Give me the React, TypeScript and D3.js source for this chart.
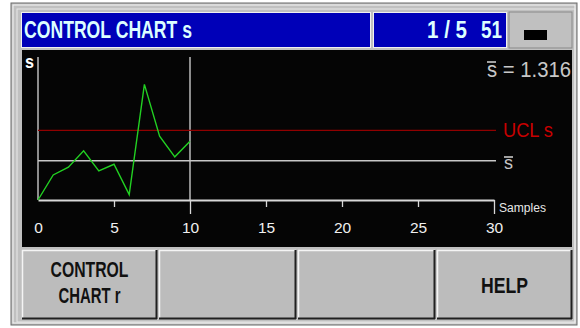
import React, { useEffect, useRef } from "react";
import * as d3 from "d3";

const samples = [0, 1, 2, 3, 4, 5, 6, 7, 8, 9, 10];
const sValues = [0.0, 0.84, 1.1, 1.65, 0.98, 1.2, 0.18, 3.88, 2.14, 1.45, 1.97];
const sMean = 1.316;
const uclS = 2.334;
const xTicks = [0, 5, 10, 15, 20, 25, 30];
const buttonLabels = [["CONTROL", "CHART r"], [], [], ["HELP"]];

const FONT = "'Liberation Sans', Arial, sans-serif";

export default function App() {
  const axisRef = useRef<SVGGElement>(null);
  const x = d3.scaleLinear().domain([0, 30]).range([38, 494]);
  const y = d3.scaleLinear().domain([0, 4.8]).range([200, 57]);

  useEffect(() => {
    if (!axisRef.current) return;
    const g = d3.select(axisRef.current);
    g.selectAll("*").remove();
    g.call(
      d3
        .axisBottom(x)
        .tickValues(xTicks)
        .tickSize(14)
        .tickSizeOuter(0)
        .tickPadding(5)
        .tickFormat(d3.format("d"))
    );
    g.select(".domain").attr("stroke", "#d8d8d8").attr("stroke-width", 2);
    g.selectAll(".tick line")
      .attr("stroke", "#d8d8d8")
      .attr("stroke-width", 1.3)
      .attr("y2", (d: any) => (d === 0 ? 0 : d === 10 || d === 30 ? 14 : 7));
    g.selectAll(".tick text")
      .attr("fill", "#f0f0f0")
      .attr("font-family", FONT)
      .attr("font-size", 15.5)
      .attr("y", 33)
      .attr("dy", 0);
  }, []);

  const line = d3
    .line<number>()
    .x((_, i) => x(samples[i]))
    .y((d) => y(d));

  const btnX = [22, 159, 298, 437];
  const btnW = [135, 137, 137, 135];

  return (
    <svg
      width={580}
      height={328}
      style={{ position: "absolute", left: 0, top: 0, background: "#fff" }}
    >
      {/* outer frame */}
      <rect x={11} y={3} width={566} height={322} fill="#c0c0c0" stroke="#6a6a6a" />
      <rect x={13} y={5} width={562} height={318} fill="none" stroke="#f4f4f4" />
      <rect x={17} y={9} width={558} height={313} fill="none" stroke="#e8e8e8" />

      {/* title boxes */}
      <rect x={21} y={12} width={350} height={36} fill="#f0f0f0" />
      <rect x={22} y={13} width={348} height={34} fill="#0000b8" />
      <rect x={373} y={12} width={134} height={36} fill="#f0f0f0" />
      <rect x={374} y={13} width={132} height={34} fill="#0000b8" />
      <rect x={509} y={12} width={63} height={36} fill="#c0c0c0" stroke="#888" />
      <rect x={524} y={30} width={23} height={10} fill="#000" />
      <text x={24} y={38} fill="#dcffff" fontFamily={FONT} fontWeight="bold" fontSize={23} textLength={168} lengthAdjust="spacingAndGlyphs">
        CONTROL CHART s
      </text>
      <text x={427} y={38} fill="#dcffff" fontFamily={FONT} fontWeight="bold" fontSize={23} textLength={40} lengthAdjust="spacingAndGlyphs">
        1 / 5
      </text>
      <text x={481} y={38} fill="#dcffff" fontFamily={FONT} fontWeight="bold" fontSize={23} textLength={21} lengthAdjust="spacingAndGlyphs">
        51
      </text>

      {/* chart area */}
      <rect x={22} y={50} width={550} height={197} fill="#050505" />
      <line x1={x(0)} x2={x(0)} y1={57} y2={y(0)} stroke="#d8d8d8" strokeWidth={1.3} />
      <line x1={x(10)} x2={x(10)} y1={57} y2={y(0)} stroke="#d8d8d8" strokeWidth={1.3} />
      <line x1={x(0)} x2={496} y1={y(uclS)} y2={y(uclS)} stroke="#900000" strokeWidth={1.3} />
      <line x1={x(0)} x2={496} y1={y(sMean)} y2={y(sMean)} stroke="#c8c8c8" strokeWidth={1.6} />
      <g ref={axisRef} transform={`translate(0,${y(0)})`} />
      <path d={line(sValues) || ""} fill="none" stroke="#22d022" strokeWidth={1.4} />

      <text x={25} y={68} fill="#ffffff" fontFamily={FONT} fontWeight="bold" fontSize={19} textLength={9} lengthAdjust="spacingAndGlyphs">
        s
      </text>
      <text x={487} y={77} fill="#c8c8c8" fontFamily={FONT} fontSize={22} textLength={84} lengthAdjust="spacingAndGlyphs">
        s = 1.316
      </text>
      <line x1={487} x2={496} y1={62} y2={62} stroke="#c8c8c8" strokeWidth={1.6} />
      <text x={503} y={137} fill="#c80000" fontFamily={FONT} fontSize={21} textLength={50} lengthAdjust="spacingAndGlyphs">
        UCL s
      </text>
      <text x={504} y={169} fill="#c8c8c8" fontFamily={FONT} fontSize={19} textLength={9} lengthAdjust="spacingAndGlyphs">
        s
      </text>
      <line x1={504} x2={513} y1={157} y2={157} stroke="#c8c8c8" strokeWidth={1.6} />
      <text x={499} y={212} fill="#e8e8e8" fontFamily={FONT} fontSize={12} textLength={47} lengthAdjust="spacingAndGlyphs">
        Samples
      </text>

      {/* buttons */}
      {buttonLabels.map((lbl, i) => {
        const bx = btnX[i];
        const bw = btnW[i];
        const cx = bx + bw / 2;
        return (
          <g key={i}>
            <rect x={bx} y={250} width={bw} height={69} fill="#bcbcbc" />
            <line x1={bx} x2={bx + bw} y1={250.5} y2={250.5} stroke="#f4f4f4" strokeWidth={1.5} />
            <line x1={bx + 0.5} x2={bx + 0.5} y1={250} y2={319} stroke="#f4f4f4" strokeWidth={1.5} />
            <line x1={bx} x2={bx + bw} y1={318.5} y2={318.5} stroke="#202020" strokeWidth={2} />
            <line x1={bx + bw - 0.5} x2={bx + bw - 0.5} y1={250} y2={319} stroke="#202020" strokeWidth={2} />
            {lbl.length === 2 ? (
              <>
                <text x={cx} y={277} textAnchor="middle" fill="#111" fontFamily={FONT} fontWeight="bold" fontSize={22} textLength={78} lengthAdjust="spacingAndGlyphs">
                  {lbl[0]}
                </text>
                <text x={cx} y={303} textAnchor="middle" fill="#111" fontFamily={FONT} fontWeight="bold" fontSize={22} textLength={62} lengthAdjust="spacingAndGlyphs">
                  {lbl[1]}
                </text>
              </>
            ) : lbl.length === 1 ? (
              <text x={cx} y={293} textAnchor="middle" fill="#111" fontFamily={FONT} fontWeight="bold" fontSize={22} textLength={47} lengthAdjust="spacingAndGlyphs">
                {lbl[0]}
              </text>
            ) : null}
          </g>
        );
      })}
    </svg>
  );
}
